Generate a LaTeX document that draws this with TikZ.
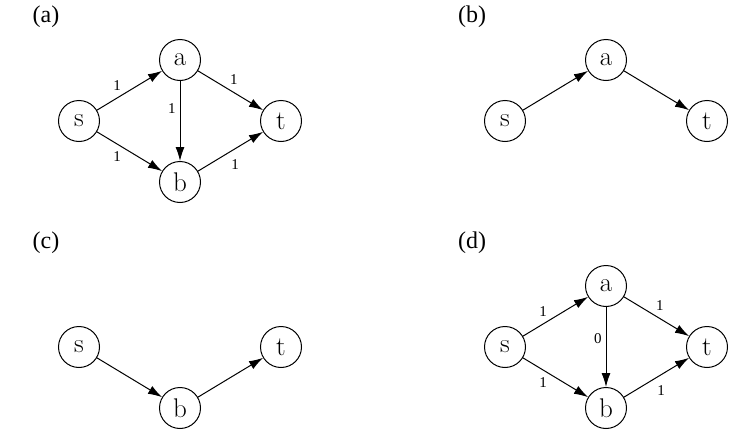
\documentclass[tikz,border=0pt]{standalone}
\usepackage{fontspec}
\newfontfamily\labelfont{Liberation Serif}
\usetikzlibrary{arrows.meta}

\begin{document}
\begin{tikzpicture}[x=1pt,y=-1pt,
		vertex/.style={draw, circle, minimum size=41pt, inner sep=0pt, line width=1pt, font=\fontsize{27}{27}\selectfont},
		flow/.style={-{Latex[length=14pt,width=9pt]}, line width=1pt},
		weight/.style={font=\labelfont\fontsize{15}{15}\selectfont, inner sep=1pt},
		panel/.style={font=\labelfont\fontsize{24}{24}\selectfont}]
		\useasboundingbox (0,0) rectangle (748,442);

		% (a) the whole network
		\node[panel] (la) at (46,17) {(a)};
		\node[vertex] (sa) at (79,121) {s};
		\node[vertex] (aa) at (180,60) {a};
		\node[vertex] (ba) at (180,182) {b};
		\node[vertex] (ta) at (281,121) {t};
		\draw[flow] (sa) -- node[weight, pos=.42, above left=2pt] {1} (aa);
		\draw[flow] (sa) -- node[weight, pos=.42, below left=2pt] {1} (ba);
		\draw[flow] (aa) -- node[weight, pos=.34, left=3pt] {1} (ba);
		\draw[flow] (aa) -- node[weight, pos=.44, above right=2pt] {1} (ta);
		\draw[flow] (ba) -- node[weight, pos=.43, below right=4pt] {1} (ta);

		% (b) path over a
		\node[panel] (lb) at (472,17) {(b)};
		\node[vertex] (sb) at (505,121) {s};
		\node[vertex] (ab) at (606,60) {a};
		\node[vertex] (tb) at (707,121) {t};
		\draw[flow] (sb) -- (ab);
		\draw[flow] (ab) -- (tb);

		% (c) path over b
		\node[panel] (lc) at (46,243) {(c)};
		\node[vertex] (sc) at (79,347) {s};
		\node[vertex] (bc) at (180,408) {b};
		\node[vertex] (tc) at (281,347) {t};
		\draw[flow] (sc) -- (bc);
		\draw[flow] (bc) -- (tc);

		% (d) network after the change
		\node[panel] (ld) at (472,243) {(d)};
		\node[vertex] (sd) at (505,347) {s};
		\node[vertex] (ad) at (606,286) {a};
		\node[vertex] (bd) at (606,408) {b};
		\node[vertex] (td) at (707,347) {t};
		\draw[flow] (sd) -- node[weight, pos=.42, above left=2pt] {1} (ad);
		\draw[flow] (sd) -- node[weight, pos=.42, below left=2pt] {1} (bd);
		\draw[flow] (ad) -- node[weight, pos=.40, left=3pt] {0} (bd);
		\draw[flow] (ad) -- node[weight, pos=.44, above right=2pt] {1} (td);
		\draw[flow] (bd) -- node[weight, pos=.43, below right=4pt] {1} (td);
	\end{tikzpicture}
\end{document}
